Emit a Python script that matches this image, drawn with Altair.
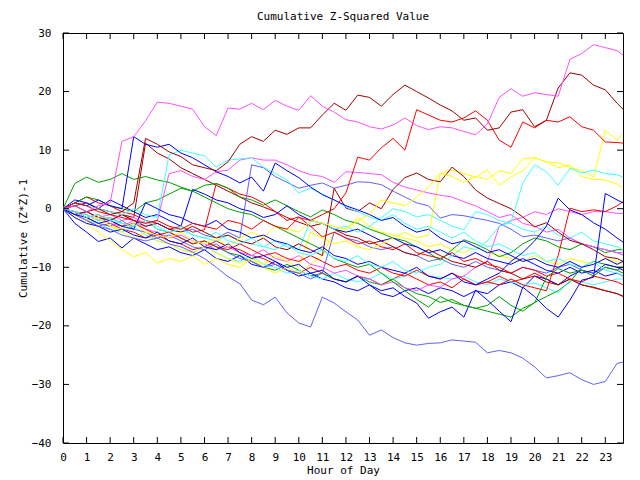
import altair as alt
import pandas as pd

# ---------------- data ----------------
HOURS = [0, 0.5, 1, 1.5, 2, 2.5, 3, 3.5, 4, 4.5,
         5, 5.5, 6, 6.5, 7, 7.5, 8, 8.5, 9, 9.5,
         10, 10.5, 11, 11.5, 12, 12.5, 13, 13.5, 14, 14.5,
         15, 15.5, 16, 16.5, 17, 17.5, 18, 18.5, 19, 19.5,
         20, 20.5, 21, 21.5, 22, 22.5, 23, 23.5,
         23.75]

X_TICKS = list(range(0, 24))
Y_TICKS = [-40, -30, -20, -10, 0, 10, 20, 30]

RED = "#ff0000"
DRED = "#a00000"
GREEN = "#00a000"
BLUE = "#0000ff"
LBLUE = "#6060ff"
MAG = "#ff50ff"
CYAN = "#40ffff"
YEL = "#ffff00"

M1 = [0, 0.5, -0.5, 0.5, 1, 11.5, 12.3, 15, 18.2, 18,
      17.5, 17, 14, 12.5, 17.2, 17, 18, 16.9, 18.5, 17.5,
      16.8, 19.3, 17.5, 16.5, 15.2, 14.8, 14, 13.6, 14.3, 15.5,
      14.2, 13.5, 14, 13.8, 13.2, 12.6, 14.5, 19, 20.5, 19.2,
      19.8, 19.5, 19.2, 25.5, 26.5, 28, 27.5, 27,
      26.2]
DR1 = [0, 0.5, -0.5, 0, -1, -0.5, 1, 12, 11, 9.7,
       8.9, 7.5, 7, 6.5, 8, 11, 12.3, 11.5, 13.4, 12.7,
       13.8, 13.8, 16, 18, 16.8, 19.4, 19, 17.5, 19.5, 21.1,
       20, 18.9, 17.7, 16.7, 15.1, 15.5, 13.4, 13.8, 16.5, 16.9,
       14, 15.1, 20.6, 23.2, 22.8, 21.1, 20.3, 18,
       17]
R1 = [0, 1, 0.5, -0.5, -1, -1.5, -2, -2.5, -2, -3,
      -3.5, -2.5, -3, -3.5, -2, -2.5, -3.5, -2, -3, -3.5,
      -1.5, -2, -1, 0, 2.7, 8.8, 8.3, 10.4, 12, 10,
      16.9, 16, 15.1, 14.8, 15.5, 16.7, 15.1, 11.7, 10.5, 14.8,
      13.8, 15.1, 14.8, 15.7, 14, 13.4, 11.4, 11.3,
      11.2]
Y1 = [0, -1, -2, -1.5, -3, -3.5, -2.5, -4, -4.5, -5,
      -4, -5.5, -6, -5, -6.5, -5, -4, -5, -3, -3.5,
      -4, -2, -2.5, -3, -3.5, -2, -1, 1.5, 1, 0.5,
      2, 3.7, 6, 5.5, 4.5, 5.5, 5, 6.5, 6, 8.5,
      8.7, 8, 7.8, 7.1, 6.5, 5.4, 13.4, 11.7,
      12.9]
Y2 = [0, -1.5, -2.5, -4, -5.5, -7, -8.2, -7.5, -9.3, -8.5,
      -9, -8, -9.5, -8.5, -9.5, -10, -8.5, -9.5, -8, -9,
      -10, -4, -5, -6, -5.5, -6.5, -7, -6, -5, -4,
      -5, -4.5, 6, 6.6, 6, 5.4, 6.6, 4, 5.4, 6.5,
      8.7, 8, 7, 7.5, 5.5, 5, 4.9, 4.2,
      3.5]
C1 = [0, -0.5, -1.5, -1, -2, -2.5, -3, -2, -3, -4,
      -3.5, -4.5, -5, -4, -5.5, -6, -5, -6.5, -7, -6,
      -7.5, -8, -7, -8.5, -9, -8, -9.5, -10, -9, -10.5,
      -11, -10, -9.5, -8, -6.5, -7, -5.5, -3, -2.3, 4.4,
      7.5, 6.3, 4, 6.9, 6.1, 6.6, 6, 5.8,
      5.4]
C2 = [0, 1, 0.5, 0, -0.5, -1, 0, -1, -1.5, 9.2,
      10, 9.5, 9, 7.1, 8.3, 8.5, 8.7, 7.1, 6, 4.9,
      2.7, 3.5, 2.5, 1.5, 0.3, -0.5, -1.4, -2, -1, -2.5,
      -3.5, -3, -4, -5, -4, -5.5, -6.5, -6, -7, -8,
      -7.5, -9, -8.5, -9.5, -10, -9, -10.5, -11,
      -11.5]
M2 = [0, -1, -0.5, -1.5, -1, -2, -1.5, -2.5, -2, 6,
      6.5, 5.5, 5, 6.3, 6.6, 8.3, 8.7, 8.3, 8.3, 7.5,
      6.5, 5.8, 5.5, 4.5, 6.3, 6.2, 6, 5.8, 4.5, 3.7,
      3.2, 2.7, 2.3, 2, 1.2, 0.5, -0.5, -1.5, -1, -2.5,
      -3, -4, -3.5, -5, -6, -6.5, -7, -7.5,
      -7.5]
M3 = [0, -1, -2, -1.5, -2.5, -3, -2, -3.5, -4, -5,
      -4.5, -5.5, -6, -7, -6.5, -7.5, -8, -7, -8.5, -9,
      -8, -9.5, -10, -11, -10.5, -11.5, -12, -13, -12.5, -13.5,
      -14, -13, -13.4, -12, -11.5, -10, -9, -3, -2, -1.5,
      -0.5, -1, 0, -0.5, -1, -0.5, -0.5, -0.8,
      -0.8]
LB1 = [0, -1, -2, -3, -3.5, -4.5, -5, -5.5, -5, -6,
       -6.5, -7.4, -8.5, -10, -11.6, -12.8, -15.6, -16.4, -15.1, -17.8,
       -19.5, -20.2, -15.1, -16.1, -17.6, -19, -21.6, -20.7, -22, -22.9,
       -23.3, -23, -22.9, -22.4, -22.6, -22.8, -24.6, -24.2, -24.6, -25.5,
       -27, -28.9, -28.5, -28, -29.2, -30, -29.5, -26.4,
       -26.2]
B1 = [0, 1, 0.5, 1.5, 0.5, 0, 12.3, 11, 10.5, 11,
      9.5, 8.7, 7.5, 6.3, 5.5, 4.4, 5.4, 3, 7.8, 6.5,
      5.3, 3.7, 2.4, 1.5, 0.5, -0.2, -1, -2, -1.5, -3,
      -4, -3.5, -5, -6, -5.5, -6.5, -7.5, -7, -8, -9,
      -8.5, -9.5, -10, -9, -10, -9.5, -8.5, -9.5,
      -9]
B2 = [0, -1, -1.5, -2.5, -2, -3, -3.5, 1, 0, -1,
      -1.5, -2.5, -3, -2, -3.5, -4, -5, -4.5, -5.5, -6,
      -7, -7.5, -6.5, -8, -8.5, -9.5, -9, -10, -10.5, -11,
      -10, -11.5, -12, -11, -12.5, -13, -12, -11, -9, -7.5,
      -5.5, -3, 1.8, -0.2, -1, -2.4, -3.5, -5,
      -5.7]
B3 = [0, -1.5, -2.5, -3, -4, -3.5, -4.5, -5, -4, -5.5,
      -6, -5, -6.5, -7, -6, -7.5, -8.5, -8, -9, -10,
      -9.5, -11, -10.5, -12, -12.5, -11.5, -13, -14, -13.5, -15,
      -16.1, -18.7, -17.6, -16.8, -18.5, -13.9, -15.6, -17.5, -19.3, -13.4,
      -15, -17, -18.5, -15.6, -12.2, -11.7, 2.6, 1.5,
      1]
G1 = [0, 4.3, 5.4, 4.5, 5, 6, 5, 5.5, 4.9, 4.5,
      3.7, 3, 2, 1, 0, -0.6, -1, -2, -3, -4,
      -5, -6, -7, -8.5, -9.3, -10, -9.5, -11, -12.5, -14,
      -15.5, -16.8, -15, -16, -16.5, -17, -17.5, -18, -18.5, -17,
      -16.1, -11.7, -10.2, -11, -10.5, -11.5, -10, -10.5,
      -11]
G2 = [0, 1, 2, 1.5, 0.5, 0, -0.5, 1, 1.5, 2.5,
      3.5, 3, 4, 4.3, 3.5, 2, 1.5, 0.6, 1.5, 0.5,
      -0.5, -1.4, -0.2, -1, -2, -2.5, -3.5, -4.2, -5, -5.5,
      -6.5, -7.5, -8.8, -7, -5.3, -6, -7, -8.2, -7.5, -6,
      -5, -5.5, -6.5, -7, -6, -6.5, -7.5, -7,
      -7]
G3 = [0, -0.5, -1, -2, -1.5, -2.5, -3, -2, -3.5, -4,
      -5, -6, -5.5, -6.5, -7.5, -8, -9, -10, -10.5, -9.5,
      -10.5, -11.5, -11, -12, -12.5, -11.5, -12.5, -13, -12, -13.5,
      -14.5, -15, -16, -15.5, -16.5, -17, -16.5, -15, -16.5, -17.5,
      -16, -15, -14, -12.5, -10, -9, -9.5, -10,
      -10]
R2 = [0, -1, -2, -3, -2.5, -3.5, -4, -5, -4.5, -5.5,
      -6, -7, -6.5, -5.5, -6.5, -7, -8, -8.5, -9.5, -10.5,
      -11, -10, -11, -12, -12.5, -11.5, -12, -13, -12, -11,
      -12, -13, -12.5, -13.5, -12, -13, -12.5, -11.5, -12.5, -12,
      -11, -12, -13, -12, -13, -13.5, -14, -14.5,
      -15]
R3 = [0, 1, 2, 1, 0.5, -0.5, -1, -2, -2.5, -3.5,
      -3, -4, -3.6, 4.3, 3.5, 2.5, 2, 1, -0.5, -2,
      -1.4, -3, -4.8, -4, -5, -6, -5.5, -6.5, -7, -6,
      -7.5, -8, -8.5, -7.5, -9, -8.5, -9.5, -10, -11, -10,
      -10.5, -11.5, -11, -12, -12.5, -11.5, -12, -12.5,
      -13]
R4 = [0, -0.5, -1.5, -1, -2, -3, -2.5, -3.5, -4.5, -4,
      -5, -6, -5.5, -6.5, -7, -6, -7, -8, -7.5, -8.5,
      -9, -8, -9, -10, -9.5, -10.5, -11, -10, -11, -11.5,
      -10.5, -11.5, -12, -11, -12, -13, -12.5, -13, -12, -13,
      -13.5, -14, -8, 0.1, -0.5, -0.2, -0.5, 0.5,
      1.2]
DR2 = [0, 0.5, 1, 0, -0.5, -1, -1.5, 11.2, 9.5, 8.5,
       7, 6, 5, 4, 3, 2, 1, 0.3, -0.5, -1.5,
       -2.3, -3, -2.5, -3.5, -4.5, -5, -6, -5.5, -6.5, -7.5,
       -8, -7, -8, -9, -9.5, -10, -9, -10.5, -11, -12,
       -11.5, -12.5, -13, -12, -13, -13.4, -14, -14.5,
       -14.9]
DR3 = [0, -1, -0.5, -1.5, -2, -1, -2, -3, -2.5, -3.5,
       -4, -3, -4, -5, -4.5, -5.5, -6, -5, -6.5, -7,
       -6, -7, -8, 3.5, 0.1, -0.5, 1, 0, 3.3, 5.3,
       6.1, 5, 4.6, 7.1, 5.5, 3.2, 1.8, 0.9, 0, -1.4,
       -3.1, -2.4, -4, -5.4, -6, -7, -8.2, -8.5,
       -9]
C3 = [0, -0.5, -1, -2, -1.5, -2.5, -3, -2, -3.5, -4,
      -3, -4.5, -5, -5.5, -4.5, -5.5, -6, -6.5, -5.5, -6.5,
      -7, -2, -2.5, -3.5, -3, -4, -3, -1.5, 0, -0.5,
      -1.4, -1, -2, -3, -3.6, -0.5, -1, -2, -2.5, -3.5,
      -4, -3, -4.5, -5, -4, -5.5, -6, -6.5,
      -7]
C4 = [0, -1, -2, -2.5, -3.5, -4, -3, -4.5, -5.5, -6,
      -7, -7.5, -6.5, -7.5, -8.5, -9, -8, -9.5, -10, -11,
      -10.5, -11.5, -12, -11, -12, -12.5, -12, -11, -12, -11.5,
      -10.5, -11.5, -11.7, -12, -11.5, -12.5, -13, -12, -12.5, -13,
      -12.7, -13.5, -14.4, -12.2, -12.5, -13, -12.5, -12,
      -12]
LB2 = [0, -1, -0.5, -1.5, -2, -1, -2, -3, -2.5, -3.5,
       -4, -3.5, -4.5, -5, -4, -5, 7.5, 7, 5.5, 4.5,
       3.5, 4, 4.4, 3.5, 4, 4.6, 4.5, 4.1, 3, 2,
       1, 0.5, -1.6, -1, -1.2, -1.6, -2, -2.5, -3.5, -4.8,
       -4.5, -5, -5.5, -5, -6, -6.5, -7, -7.5,
       -7.9]
LB3 = [0, -0.5, -1.5, -2.5, -3, -2, -3.5, -4, -5, -4.5,
       -5.5, -6.5, -7, -6, -7.5, -8.5, -9, -10, -9.5, -10.5,
       -11, -12, -11, -4, -5, -5.5, -6.5, -7, -6.5, -7.5,
       -8, -9, -8.5, -9.5, -10, -9, -10, -10.5, -11, -10,
       -10.5, -11, -10, -9.5, -10.5, -11, -10, -10.5,
       -10]
B4 = [0, 1.5, 1, 0, 1.5, 0.5, -0.5, -1.5, -1, -2,
      -3, 3.3, 2.5, 1.5, 1, 0, -0.5, -1.5, -1, 0.5,
      -1, -2, -2.5, -3.5, -4, -3.5, -4.5, -5.5, -5, -6,
      -6.5, -7.5, -7, -8, -8.5, -7.5, -8.5, -9, -9.5, -8.5,
      -9.5, -10.5, -11, -10, -11, -10.5, -11.5, -11,
      -11.5]
B5 = [0, -2.5, -4, -5.6, -5, -6.7, -5, -6, -7, -6.5,
      -7.5, -8, -7, -8.5, -9, -8, -9.5, -10, -9, -10.5,
      -11.5, -11, -12, -12.5, -13.5, -14, -13, -14.5, -15, -14,
      -13.5, -14.5, -13.5, -14, -15, -14, -14.5, -13, -12.5, -13.5,
      -11.5, -12, -13, -11.5, -10.5, -11, -9.5, -10,
      -10.5]
Y3 = [0, -1, -2, -1.5, -3, -4, -5, -4, -5.5, -6,
      -7, -7.5, -6.5, -7.5, -8.5, -9.3, -8.5, -10, -11, -10,
      -11, -9.5, -8, -4, -3.5, -1.5, -3, -4, -4.5, -5,
      -5.5, -6.5, -6, -7, -7.5, -6.5, -7.5, -8, -8.5, -9,
      -8, -9, -9.5, -8.5, -9, -9.5, -8.5, -9,
      -9.5]

SERIES = [
    ("R2", RED, R2), ("G3", GREEN, G3), ("B5", BLUE, B5), ("C4", CYAN, C4),
    ("Y3", YEL, Y3), ("LB3", LBLUE, LB3), ("M3", MAG, M3), ("DR2", DRED, DR2),
    ("R3", RED, R3), ("G2", GREEN, G2), ("B4", BLUE, B4), ("C3", CYAN, C3),
    ("Y2", YEL, Y2), ("LB2", LBLUE, LB2), ("M2", MAG, M2), ("DR3", DRED, DR3),
    ("R4", RED, R4), ("G1", GREEN, G1), ("B3", BLUE, B3), ("C2", CYAN, C2),
    ("Y1", YEL, Y1), ("LB1", LBLUE, LB1), ("B2", BLUE, B2), ("C1", CYAN, C1),
    ("B1", BLUE, B1), ("R1", RED, R1), ("DR1", DRED, DR1), ("M1", MAG, M1),
]

rows = []
for k, (name, col, vals) in enumerate(SERIES):
    assert len(vals) == len(HOURS), (name, len(vals))
    for h, v in zip(HOURS, vals):
        rows.append({"series": name, "ord": k, "hour": h, "value": v})
df = pd.DataFrame(rows)

names = [s[0] for s in SERIES]
colors = [s[1] for s in SERIES]

W, H = 560, 410
FONT = "DejaVu Sans Mono"
FS = 11

xscale = alt.Scale(domain=[0, 23.75], nice=False, zero=False)
yscale = alt.Scale(domain=[-40, 30], nice=False, zero=False)

AX_X = alt.Axis(values=X_TICKS, title="Hour of Day", tickSize=0,
                labelPadding=8, domain=False, grid=False,
                labelOverlap=False, labelFlush=False,
                labelFont=FONT, labelFontSize=FS, labelColor="black",
                titleFont=FONT, titleFontSize=FS, titleFontWeight="normal",
                titleColor="black", titleX=280, titleY=27,
                titleBaseline="middle", titleAlign="center")
AX_Y = alt.Axis(values=Y_TICKS, title="Cumulative (Z*Z)-1", tickSize=0,
                labelPadding=12, domain=False, grid=False,
                labelOverlap=False, labelFlush=False,
                labelFont=FONT, labelFontSize=FS, labelColor="black",
                titleFont=FONT, titleFontSize=FS, titleFontWeight="normal",
                titleColor="black", titleX=-40, titleY=205,
                titleAngle=270, titleBaseline="middle", titleAlign="center")

lines = alt.Chart(df).mark_line(strokeWidth=1, clip=True).encode(
    x=alt.X("hour:Q", scale=xscale, axis=AX_X, title="Hour of Day"),
    y=alt.Y("value:Q", scale=yscale, axis=AX_Y, title="Cumulative (Z*Z)-1"),
    color=alt.Color("series:N", scale=alt.Scale(domain=names, range=colors),
                    legend=None),
    order=alt.Order("hour:Q"),
)

xt = pd.DataFrame({"hour": X_TICKS})
yt = pd.DataFrame({"value": Y_TICKS})
TL = 6
XE = alt.X("hour:Q", scale=xscale, axis=AX_X, title="Hour of Day")
YE = alt.Y("value:Q", scale=yscale, axis=AX_Y, title="Cumulative (Z*Z)-1")
tick_bottom = alt.Chart(xt).mark_rule(color="black", strokeWidth=1).encode(
    x=XE, y=alt.value(H), y2=alt.value(H - TL))
tick_top = alt.Chart(xt).mark_rule(color="black", strokeWidth=1).encode(
    x=XE, y=alt.value(0), y2=alt.value(TL))
tick_left = alt.Chart(yt).mark_rule(color="black", strokeWidth=1).encode(
    y=YE, x=alt.value(0), x2=alt.value(TL))
tick_right = alt.Chart(yt).mark_rule(color="black", strokeWidth=1).encode(
    y=YE, x=alt.value(W), x2=alt.value(W - TL))

chart = alt.layer(lines, tick_bottom, tick_top, tick_left, tick_right).properties(
    width=W, height=H,
    title=alt.TitleParams("Cumulative Z-Squared Value", font=FONT, fontSize=FS,
                          fontWeight="normal", color="black", anchor="middle",
                          offset=5),
    padding={"left": 63, "top": 33, "right": 17, "bottom": 37},
    autosize=alt.AutoSizeParams(type="none"),
    background="white",
).configure_view(stroke="black", strokeWidth=1)

chart.save("out.html", embed_options={"renderer": "svg", "actions": False})
